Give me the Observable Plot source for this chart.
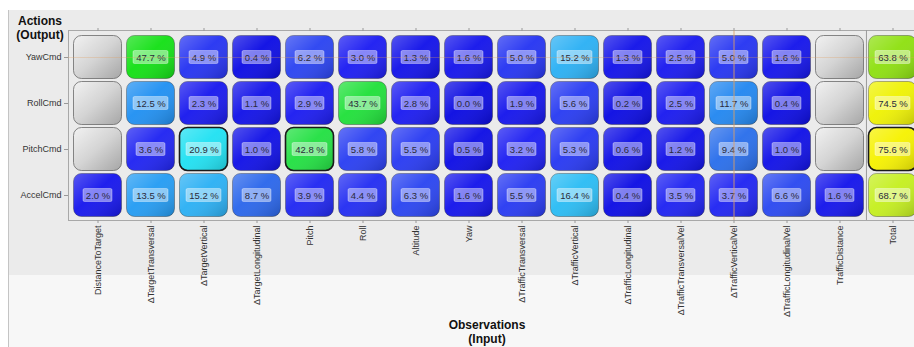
<!DOCTYPE html>
<html>
<head>
<meta charset="utf-8">
<script src="https://cdn.jsdelivr.net/npm/d3@7"></script>
<script src="https://cdn.jsdelivr.net/npm/@observablehq/plot@0.6"></script>
<style>
  html, body { margin: 0; padding: 0; background: #ffffff; }
  #wrap { position: relative; width: 914px; height: 347px; overflow: hidden; font-family: "Liberation Sans", Arial, sans-serif; }
  .bg1 { position: absolute; left: 9px; top: 10px; width: 905px; height: 265px; background: #ebebeb; }
  .bg2 { position: absolute; left: 9px; top: 275px; width: 905px; height: 72px; background: #f7f7f7; }
  .edge { position: absolute; left: 8px; top: 10px; width: 1px; height: 337px; background: #c4c4c4; }
  #chart { position: absolute; left: 0; top: 0; }
  .ttl { position: absolute; font-weight: bold; font-size: 12px; color: #111; text-align: center; line-height: 14px; }
</style>
</head>
<body>
<div id="wrap">
  <div class="bg1"></div>
  <div class="bg2"></div>
  <div class="edge"></div>
  <div id="chart"></div>
  <div class="ttl" style="left:10px; top:14px; width:60px;">Actions<br>(Output)</div>
  <div class="ttl" style="left:437px; top:318px; width:100px;">Observations<br>(Input)</div>
</div>
<script>
const observations = ["DistanceToTarget", "ΔTargetTransversal", "ΔTargetVertical", "ΔTargetLongitudinal", "Pitch", "Roll", "Altitude", "Yaw", "ΔTrafficTransversal", "ΔTrafficVertical", "ΔTrafficLongitudinal", "ΔTrafficTransversalVel", "ΔTrafficVerticalVel", "ΔTrafficLongitudinalVel", "TrafficDistance", "Total"];
const actions = ["YawCmd", "RollCmd", "PitchCmd", "AccelCmd"];
const yawCmd   = [null, 47.7, 4.9, 0.4, 6.2, 3.0, 1.3, 1.6, 5.0, 15.2, 1.3, 2.5, 5.0, 1.6, null, 63.8];
const rollCmd  = [null, 12.5, 2.3, 1.1, 2.9, 43.7, 2.8, 0.0, 1.9, 5.6, 0.2, 2.5, 11.7, 0.4, null, 74.5];
const pitchCmd = [null, 3.6, 20.9, 1.0, 42.8, 5.8, 5.5, 0.5, 3.2, 5.3, 0.6, 1.2, 9.4, 1.0, null, 75.6];
const accelCmd = [2.0, 13.5, 15.2, 8.7, 3.9, 4.4, 6.3, 1.6, 5.5, 16.4, 0.4, 3.5, 3.7, 6.6, 1.6, 68.7];
const highlighted = [["PitchCmd", "ΔTargetVertical"], ["PitchCmd", "Pitch"], ["PitchCmd", "Total"]];
const cursor = {action: "YawCmd", observation: "ΔTrafficVerticalVel"};
const colorStops = [0, 3, 6, 9, 12.5, 15.5, 21, 43, 48, 64, 69, 75];
const colorRange = ["#0a0ae2", "#1c1cf2", "#2a40f2", "#2a6aea", "#2090f2", "#2cb4f4", "#20e2f2", "#22e040", "#12e012", "#90e010", "#c8f020", "#f2f200"];

const seriesByAction = {YawCmd: yawCmd, RollCmd: rollCmd, PitchCmd: pitchCmd, AccelCmd: accelCmd};
const table = [];
for (const a of actions) {
  seriesByAction[a].forEach((v, i) => {
    const o = observations[i];
    table.push({action: a, observation: o, value: v,
      hi: highlighted.some(([ha, ho]) => ha === a && ho === o)});
  });
}
const valued = table.filter(d => d.value != null);
const empty = table.filter(d => d.value == null);
const fmt = d => d.value.toFixed(1) + " %";

const ns = "http://www.w3.org/2000/svg";
const defs = () => {
  const g = document.createElementNS(ns, "defs");
  g.innerHTML = `
    <linearGradient id="gloss" x1="0" y1="0" x2="1" y2="1">
      <stop offset="0" stop-color="#ffffff" stop-opacity="0.28"/>
      <stop offset="0.45" stop-color="#ffffff" stop-opacity="0.04"/>
      <stop offset="1" stop-color="#000000" stop-opacity="0.2"/>
    </linearGradient>
    <linearGradient id="grayfill" x1="0" y1="0" x2="1" y2="1">
      <stop offset="0" stop-color="#f2f2f2"/>
      <stop offset="0.5" stop-color="#d4d4d4"/>
      <stop offset="1" stop-color="#a6a6a6"/>
    </linearGradient>`;
  return g;
};

const step = (920 - 70) / observations.length;

const chart = Plot.plot({
  width: 914,
  height: 347,
  marginLeft: 68,
  marginTop: 30,
  marginBottom: 127,
  marginRight: 0,
  style: {background: "transparent", fontFamily: "'Liberation Sans', Arial, sans-serif", fontSize: "9px", color: "#333"},
  x: {type: "band", domain: observations, range: [70, 920], padding: 0, label: null},
  y: {type: "band", domain: actions, range: [34, 218], padding: 0, label: null},
  color: {type: "linear", domain: colorStops, range: colorRange, interpolate: "rgb"},
  marks: [
    defs,
    Plot.frame({stroke: "#a8a8a8"}),
    Plot.cell(empty, {x: "observation", y: "action", fill: "url(#grayfill)", stroke: "#6a6a6a", strokeWidth: 0.8, rx: 8, insetLeft: 2.5, insetRight: 2.5, insetTop: 1.5, insetBottom: 1.5}),
    Plot.cell(valued, {x: "observation", y: "action", fill: "value", stroke: "#3a3a3a", strokeOpacity: 0.55, strokeWidth: 0.8, rx: 8, insetLeft: 2.5, insetRight: 2.5, insetTop: 1.5, insetBottom: 1.5}),
    Plot.cell(valued, {x: "observation", y: "action", fill: "url(#gloss)", rx: 8, insetLeft: 2.5, insetRight: 2.5, insetTop: 1.5, insetBottom: 1.5}),
    Plot.cell(valued.filter(d => d.hi), {x: "observation", y: "action", fill: "none", stroke: "#1a1a1a", strokeWidth: 1.6, rx: 8, insetLeft: 2.5, insetRight: 2.5, insetTop: 1.5, insetBottom: 1.5}),
    Plot.cell(valued.filter(d => d.value < 10), {x: "observation", y: "action", fill: "#ffffff", fillOpacity: 0.45, stroke: "#ffffff", strokeOpacity: 0.35, rx: 1.5, insetLeft: 12, insetRight: 12, insetTop: 16.5, insetBottom: 16.5}),
    Plot.cell(valued.filter(d => d.value >= 10), {x: "observation", y: "action", fill: "#ffffff", fillOpacity: 0.45, stroke: "#ffffff", strokeOpacity: 0.35, rx: 1.5, insetLeft: 9, insetRight: 9, insetTop: 16.5, insetBottom: 16.5}),
    Plot.text(valued, {x: "observation", y: "action", text: fmt, fill: "#2a2a3a", fontSize: 9.5}),
    Plot.ruleX(["Total"], {dx: -step / 2, stroke: "#9a9a9a"}),
    Plot.ruleX([cursor.observation], {stroke: "#e0a060", strokeOpacity: 0.85}),
    Plot.ruleY([cursor.action], {stroke: "#e0a060", strokeOpacity: 0.3}),
    Plot.axisX({anchor: "top", tickSize: 3, tickFormat: () => "", label: null, stroke: "#999"}),
    Plot.axisX({anchor: "bottom", tickSize: 3, tickPadding: 2, tickRotate: -90, label: null, fontSize: 9, fill: "#333", stroke: "#999"}),
    Plot.axisY({anchor: "left", tickSize: 4, tickPadding: 3, label: null, fontSize: 9, fill: "#333", stroke: "#999"})
  ]
});
document.getElementById("chart").appendChild(chart);
</script>
</body>
</html>
